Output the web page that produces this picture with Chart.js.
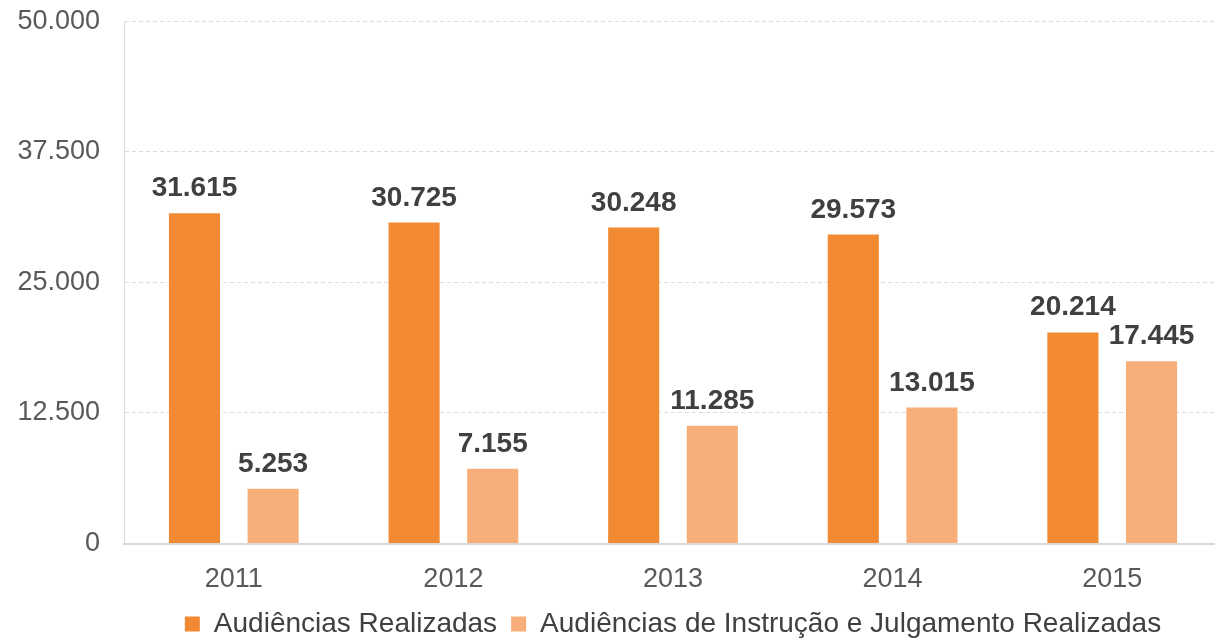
<!DOCTYPE html>
<html><head><meta charset="utf-8">
<script src="https://cdn.jsdelivr.net/npm/chart.js@4/dist/chart.umd.min.js"></script>
<style>html,body{margin:0;padding:0;background:#fff;overflow:hidden}#wrap{width:1215px;height:640px;overflow:hidden;position:relative}#c{position:absolute;left:0;top:-19px}</style>
</head><body><div id="wrap"><canvas id="c" width="1222" height="659"></canvas></div>
<script>
const categories = ['2011','2012','2013','2014','2015'];
const seriesNames = ['Audiências Realizadas','Audiências de Instrução e Julgamento Realizadas'];
const realizadas = [31615, 30725, 30248, 29573, 20214];
const instrucao = [5253, 7155, 11285, 13015, 17445];
const yTicks = [0, 12500, 25000, 37500, 50000];

const fmt = v => v.toString().replace(/\B(?=(\d{3})+(?!\d))/g, '.');
const FONT = "'Liberation Sans', Arial, sans-serif";

const labelPlugin = {
  id: 'vlabels',
  afterDatasetsDraw(chart) {
    const ctx = chart.ctx;
    ctx.save();
    ctx.font = "bold 28px " + FONT;
    ctx.fillStyle = '#404040';
    ctx.textAlign = 'center';
    ctx.textBaseline = 'alphabetic';
    chart.data.datasets.forEach((ds, di) => {
      const meta = chart.getDatasetMeta(di);
      meta.data.forEach((bar, i) => {
        ctx.fillText(fmt(ds.data[i]), bar.x, bar.y - 17);
      });
    });
    ctx.restore();
  }
};

new Chart(document.getElementById('c'), {
  type: 'bar',
  data: {
    labels: categories,
    datasets: [
      { label: seriesNames[0], data: realizadas, backgroundColor: '#F28A33' },
      { label: seriesNames[1], data: instrucao, backgroundColor: '#F7AE79' }
    ]
  },
  options: {
    responsive: false,
    animation: false,
    devicePixelRatio: 1,
    layout: { padding: { top: 0, right: 0, left: 0, bottom: -8 } },
    categoryPercentage: 0.716,
    barPercentage: 0.65,
    plugins: {
      legend: {
        position: 'bottom',
        fullSize: false,
        labels: {
          font: { family: FONT, size: 28 },
          color: '#404040',
          boxWidth: 15, boxHeight: 15,
          padding: 14
        }
      },
      tooltip: { enabled: false }
    },
    scales: {
      x: {
        grid: { display: false },
        border: { display: true, color: '#d9d9d9', width: 2 },
        ticks: { font: { family: FONT, size: 27 }, color: '#595959', padding: 12 },
        afterFit: s => { s.height = s.height - 12; }
      },
      y: {
        min: 0, max: 50000,
        afterBuildTicks: s => { s.ticks = yTicks.map(v => ({ value: v })); },
        afterFit: s => { s.width = 124; },
        grid: { color: '#dcdcdc', lineWidth: 1, drawTicks: false },
        border: { display: true, color: '#dcdcdc', width: 1, dash: [4, 3] },
        ticks: { font: { family: FONT, size: 27 }, color: '#595959', padding: 24, callback: v => fmt(v) }
      }
    }
  },
  plugins: [labelPlugin, {
    id: 'dashgrid',
    beforeDraw(chart) {
      chart.scales.y.options.grid.borderDash = [4, 3];
    }
  }]
});
</script>
</body></html>
